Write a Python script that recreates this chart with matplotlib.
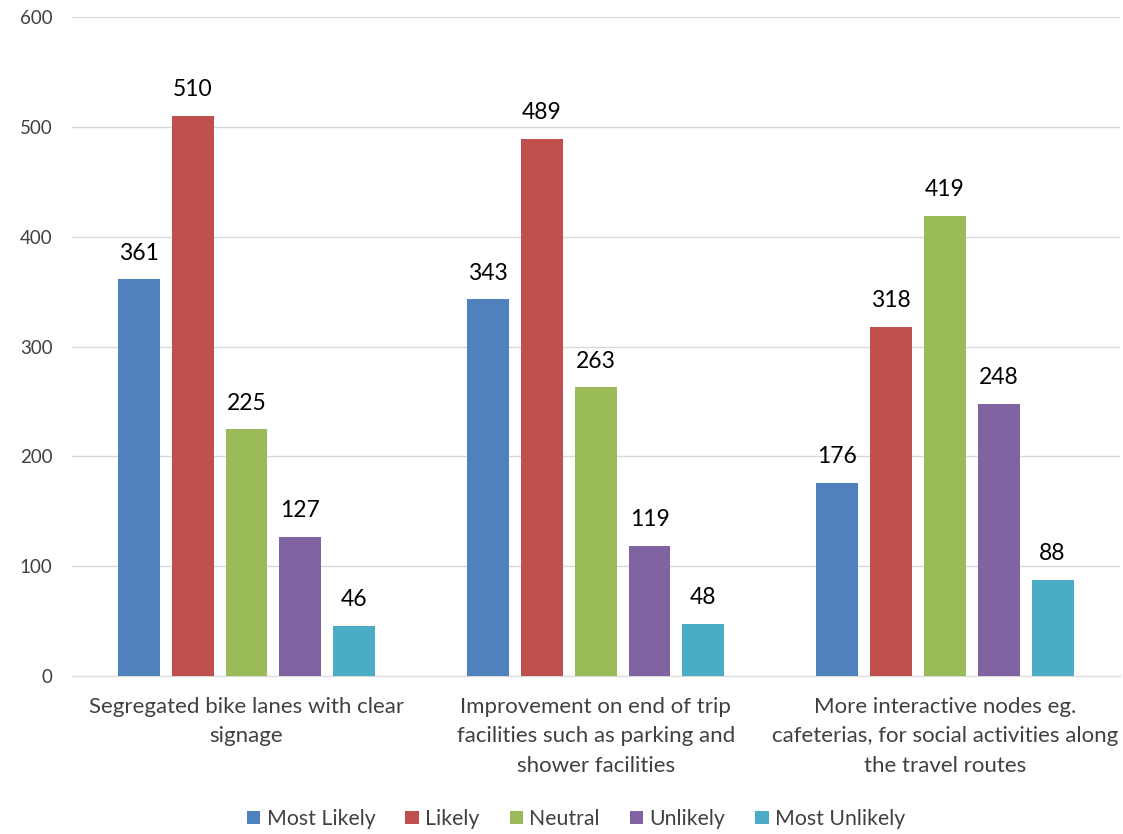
import matplotlib
matplotlib.use("Agg")
import matplotlib.pyplot as plt
import numpy as np

categories = ["Segregated bike lanes with clear\nsignage",
              "Improvement on end of trip\nfacilities such as parking and\nshower facilities",
              "More interactive nodes eg.\ncafeterias, for social activities along\nthe travel routes"]
series_names = ["Most Likely", "Likely", "Neutral", "Unlikely", "Most Unlikely"]
most_likely = [361, 343, 176]
likely = [510, 489, 318]
neutral = [225, 263, 419]
unlikely = [127, 119, 248]
most_unlikely = [46, 48, 88]
colors = ["#4F81BD", "#C0504D", "#9BBB59", "#8064A2", "#4BACC6"]
yticks = [0, 100, 200, 300, 400, 500, 600]

plt.rcParams['font.family'] = ['Lato', 'DejaVu Sans']

fig = plt.figure(figsize=(11.23, 8.34), dpi=100)
ax = fig.add_axes([0.064, 0.189, 0.933, 0.791])

data = [most_likely, likely, neutral, unlikely, most_unlikely]
x = np.arange(len(categories))
pitch = 0.154
width = 0.12
for i, (vals, name, c) in enumerate(zip(data, series_names, colors)):
    pos = x + (i - 2) * pitch
    bars = ax.bar(pos, vals, width=width, color=c, label=name, zorder=3)
    for b, v in zip(bars, vals):
        ax.text(b.get_x() + b.get_width() / 2, v + 14, str(v), ha='center', va='bottom',
                fontsize=16.5, color='#000000')

ax.set_xlim(-0.5, 2.5)
ax.set_ylim(0, 600)
ax.set_yticks(yticks)
ax.set_yticklabels([str(t) for t in yticks], fontsize=13.5, color='#404040')
ax.set_xticks(x)
ax.set_xticklabels(categories, fontsize=16, color='#404040', linespacing=1.58)
ax.tick_params(axis='x', length=0, pad=15)
ax.tick_params(axis='y', length=0, pad=14)
ax.grid(axis='y', color='#D9D9D9', linewidth=1, zorder=0)
for s in ['top', 'right', 'left']:
    ax.spines[s].set_visible(False)
ax.spines['bottom'].set_color('#D9D9D9')

leg = fig.legend(loc='lower center', bbox_to_anchor=(0.513, -0.017), ncol=5, frameon=False,
                 fontsize=15.3, handlelength=0.62, handleheight=0.62, handletextpad=0.3,
                 columnspacing=1.42)
for t in leg.get_texts():
    t.set_color('#404040')

fig.savefig("out.png", dpi=100)
